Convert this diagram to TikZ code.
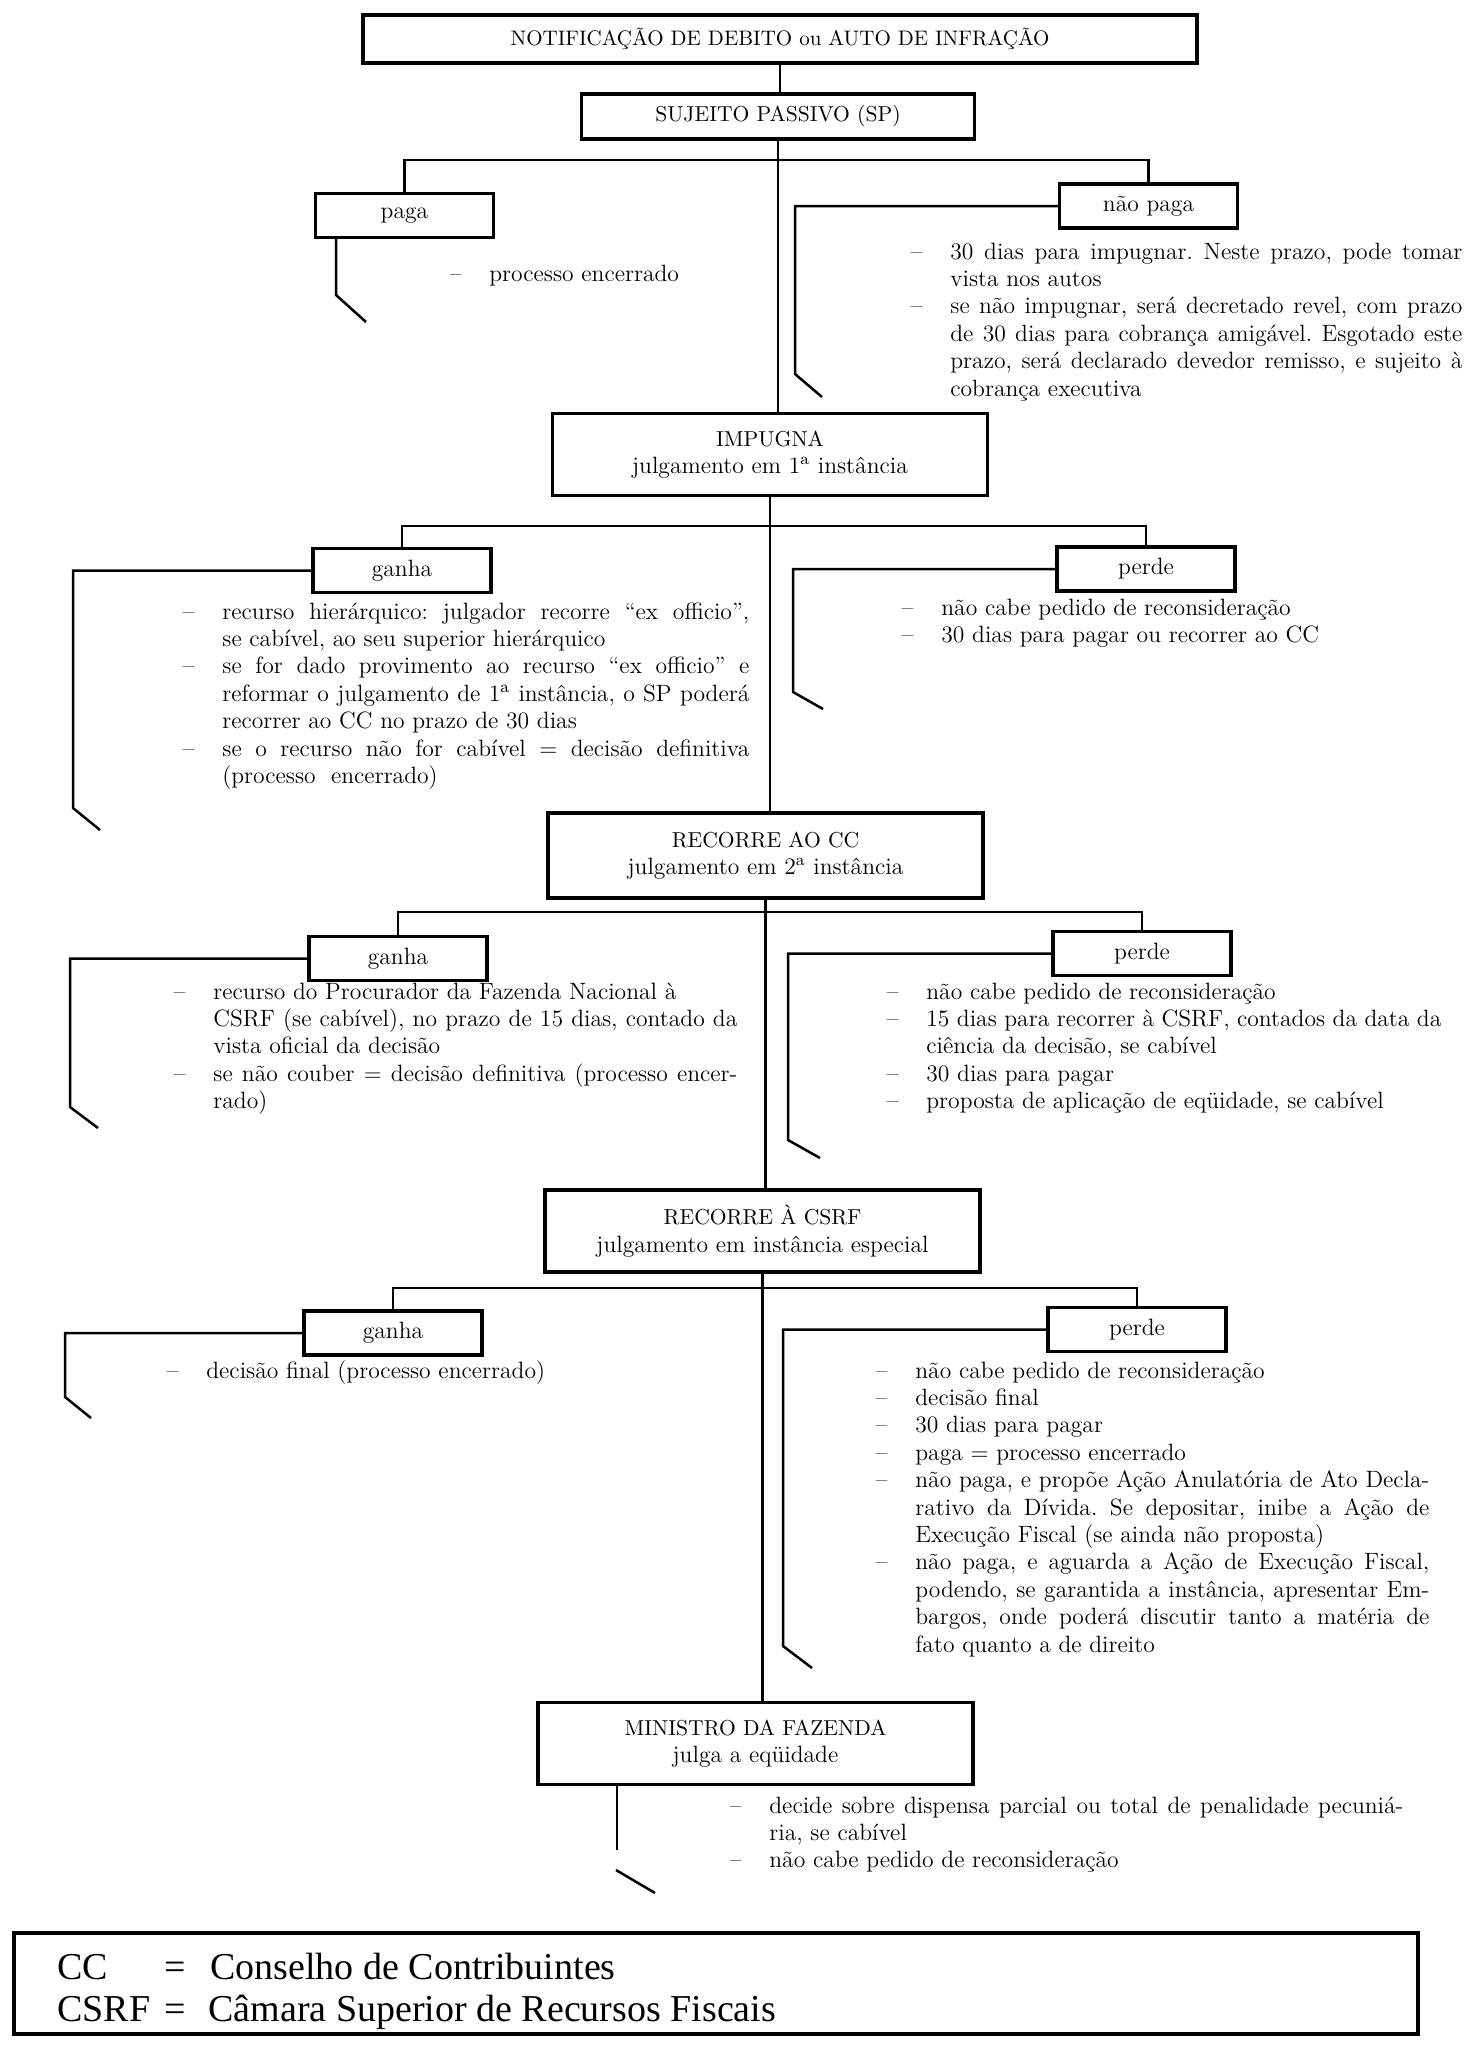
\documentclass[tikz,border=0pt]{standalone}
\usepackage{fontspec}
\newfontfamily\legendfont{Liberation Serif}
\usetikzlibrary{calc}
\frenchspacing
\newcommand{\dl}{\leavevmode\llap{–\hspace{14pt}}}
\newcommand{\jl}[1]{\makebox[\linewidth][s]{#1}\par}
\newcommand{\pl}[1]{\makebox[\linewidth][l]{#1}\par}
\newcommand{\blk}[2]{\parbox[t]{#1}{\fontsize{11.8}{13.7}\selectfont\frenchspacing\parindent=0pt\lineskiplimit=-20pt\lineskip=0pt #2}}
\newcommand{\capsz}{\fontsize{10.8}{13.7}\selectfont}
\begin{document}
\begin{tikzpicture}[x=0.5pt,y=-0.5pt,
  box/.style={draw,line width=1.6pt,inner sep=0pt,align=center,font=\fontsize{11.8}{13.7}\selectfont},
  sbox/.style={box,minimum width=89pt,minimum height=22pt},
  bbox/.style={box,minimum width=217.5pt,minimum height=41pt},
  conn/.style={line width=1.25pt},
  trunk/.style={line width=1.1pt},
  txt/.style={anchor=base west,inner sep=0pt,font=\fontsize{11.8}{13.7}\selectfont},
  legtxt/.style={anchor=base west,inner sep=0pt,font=\legendfont\fontsize{19}{21}\selectfont}]
\useasboundingbox (0,0) rectangle (1467,2057);

% boxes
\node[box,minimum width=417pt,minimum height=24pt] (top) at (780,39) {\fontsize{10.5}{12}\selectfont NOTIFICAÇÃO DE DEBITO ou AUTO DE INFRAÇÃO};
\node[box,minimum width=196.5pt,minimum height=22.5pt] (sp) at (778,116.5) {\capsz SUJEITO PASSIVO (SP)};
\node[sbox] (paga) at (404.5,215.5) {paga};
\node[sbox] (naopaga) at (1148.5,206) {não paga};
\node[bbox] (imp) at (770,454.5) {{\capsz IMPUGNA}\\julgamento em 1\textsuperscript{a} instância};
\node[sbox] (ganha1) at (402,570.5) {ganha};
\node[sbox] (perde1) at (1146,569) {perde};
\node[bbox,minimum height=42.5pt] (cc) at (765.5,855.5) {{\capsz RECORRE AO CC}\\julgamento em 2\textsuperscript{a} instância};
\node[sbox] (ganha2) at (398,958.5) {ganha};
\node[sbox] (perde2) at (1142,953.5) {perde};
\node[bbox] (csrf) at (762.5,1231) {{\capsz RECORRE À CSRF}\\julgamento em instância especial};
\node[sbox] (ganha3) at (393,1333) {ganha};
\node[sbox] (perde3) at (1137,1329.5) {perde};
\node[bbox] (min) at (755.5,1743.5) {{\capsz MINISTRO DA FAZENDA}\\julga a eqüidade};
\node[draw,line width=1.6pt,minimum width=702pt,minimum height=50.5pt,inner sep=0pt] (leg) at (716,1983.5) {};

% trunk
\draw[trunk] (top.south) -- (top.south |- sp.north);
\draw[trunk] (sp.south) -- (sp.south |- imp.north);
\draw[trunk] (imp.south) -- (imp.south |- cc.north);
\draw[trunk] (cc.south) -- (cc.south |- csrf.north);
\draw[trunk] (csrf.south) -- (csrf.south |- min.north);

% branches
\coordinate (b1) at (778,160);
\coordinate (b2) at (770,526);
\coordinate (b3) at (765.5,912);
\coordinate (b4) at (762.5,1288);
\draw[conn] (paga.north) |- (b1) -| (naopaga.north);
\draw[conn] (ganha1.north) |- (b2) -| (perde1.north);
\draw[conn] (ganha2.north) |- (b3) -| (perde2.north);
\draw[conn] (ganha3.north) |- (b4) -| (perde3.north);

% side lines
\coordinate (pagaK) at (336,295); \coordinate (pagaE) at (366,322);
\draw[conn] (paga.south -| pagaK) -- (pagaK) -- (pagaE);
\coordinate (npK) at (795,374); \coordinate (npE) at (822,397);
\draw[conn] (naopaga.west) -| (npK) -- (npE);
\coordinate (g1K) at (73,808); \coordinate (g1E) at (100,830);
\draw[conn] (ganha1.west) -| (g1K) -- (g1E);
\coordinate (p1K) at (793,692); \coordinate (p1E) at (823,709);
\draw[conn] (perde1.west) -| (p1K) -- (p1E);
\coordinate (g2K) at (70,1107); \coordinate (g2E) at (98,1128);
\draw[conn] (ganha2.west) -| (g2K) -- (g2E);
\coordinate (p2K) at (788,1140); \coordinate (p2E) at (820,1158);
\draw[conn] (perde2.west) -| (p2K) -- (p2E);
\coordinate (g3K) at (65,1397); \coordinate (g3E) at (91,1418);
\draw[conn] (ganha3.west) -| (g3K) -- (g3E);
\coordinate (p3K) at (783,1646); \coordinate (p3E) at (812,1668);
\draw[conn] (perde3.west) -| (p3K) -- (p3E);
\coordinate (mK) at (617,1850);
\draw[conn] (min.south -| mK) -- (mK);
\coordinate (mA) at (616,1870); \coordinate (mE) at (655,1893);
\draw[conn] (mA) -- (mE);

% texts
\node[txt] (tpaga) at (489,281) {\dl processo encerrado};
\node[txt] (tnp) at (950,259) {\blk{256pt}{%
\dl\jl{30 dias para impugnar. Neste prazo, pode tomar}
\pl{vista nos autos}
\dl\jl{se não impugnar, será decretado revel, com prazo}
\jl{de 30 dias para cobrança amigável. Esgotado este}
\jl{prazo, será declarado devedor remisso, e sujeito à}
\pl{cobrança executiva}}};
\node[txt] (tg1) at (222,619) {\blk{263.5pt}{%
\dl\jl{recurso hierárquico: julgador recorre “ex officio”,}
\pl{se cabível, ao seu superior hierárquico}
\dl\jl{se for dado provimento ao recurso “ex officio” e}
\jl{reformar o julgamento de 1\textsuperscript{a} instância, o SP poderá}
\pl{recorrer ao CC no prazo de 30 dias}
\dl\jl{se o recurso não for cabível = decisão definitiva}
\pl{(processo \ encerrado)}}};
\node[txt] (tp1) at (941,615) {\blk{200pt}{%
\dl\pl{não cabe pedido de reconsideração}
\dl\pl{30 dias para pagar ou recorrer ao CC}}};
\node[txt] (tg2) at (213,999) {\blk{262pt}{%
\dl\pl{recurso do Procurador da Fazenda Nacional à}
\jl{CSRF (se cabível), no prazo de 15 dias, contado da}
\pl{vista oficial da decisão}
\dl\jl{se não couber = decisão definitiva (processo encer-}
\pl{rado)}}};
\node[txt] (tp2) at (926,999) {\blk{257.5pt}{%
\dl\pl{não cabe pedido de reconsideração}
\dl\jl{15 dias para recorrer à CSRF, contados da data da}
\pl{ciência da decisão, se cabível}
\dl\pl{30 dias para pagar}
\dl\pl{proposta de aplicação de eqüidade, se cabível}}};
\node[txt] (tg3) at (206,1378) {\dl decisão final (processo encerrado)};
\node[txt] (tp3) at (915,1378) {\blk{257pt}{%
\dl\pl{não cabe pedido de reconsideração}
\dl\pl{decisão final}
\dl\pl{30 dias para pagar}
\dl\pl{paga = processo encerrado}
\dl\jl{não paga, e propõe Ação Anulatória de Ato Decla-}
\jl{rativo da Dívida. Se depositar, inibe a Ação de}
\pl{Execução Fiscal (se ainda não proposta)}
\dl\jl{não paga, e aguarda a Ação de Execução Fiscal,}
\jl{podendo, se garantida a instância, apresentar Em-}
\jl{bargos, onde poderá discutir tanto a matéria de}
\pl{fato quanto a de direito}}};
\node[txt] (tm) at (769,1813) {\blk{317pt}{%
\dl\jl{decide sobre dispensa parcial ou total de penalidade pecuniá-}
\pl{ria, se cabível}
\dl\pl{não cabe pedido de reconsideração}}};

% legend
\node[legtxt] (l1a) at (57,1979) {CC};
\node[legtxt,anchor=base] (l1b) at (175,1979) {=};
\node[legtxt] (l1c) at (210,1979) {Conselho de Contribuintes};
\node[legtxt] (l2a) at (57,2021) {CSRF};
\node[legtxt,anchor=base] (l2b) at (175,2021) {=};
\node[legtxt] (l2c) at (208,2021) {Câmara Superior de Recursos Fiscais};
\end{tikzpicture}
\end{document}
